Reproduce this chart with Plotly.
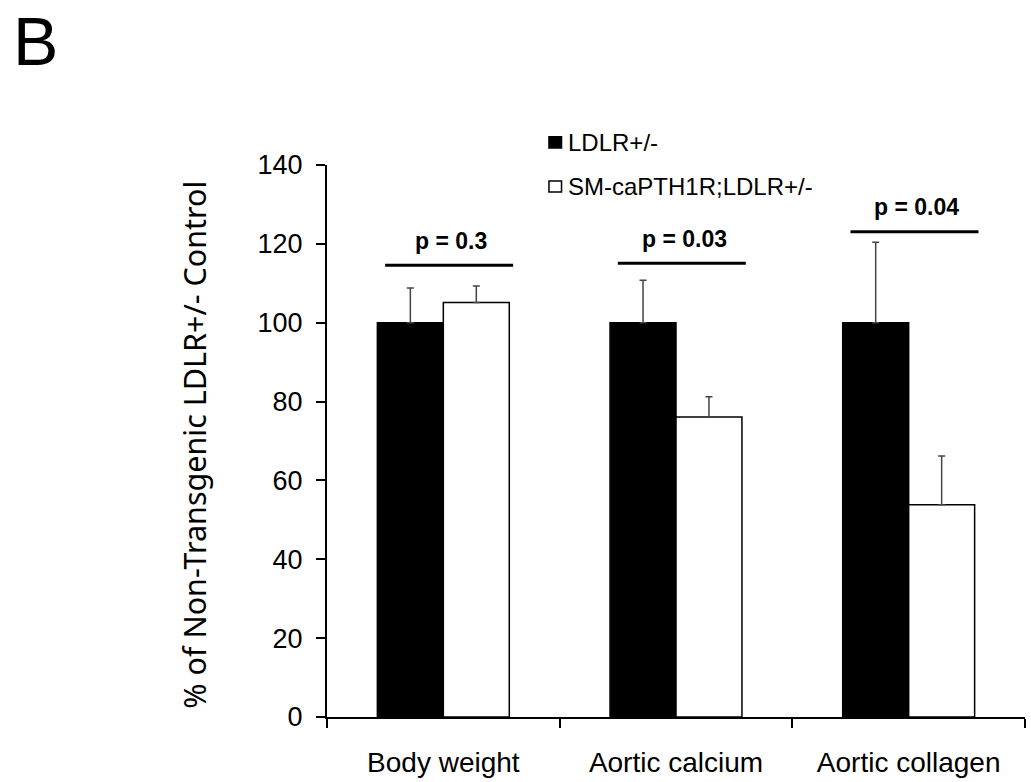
import plotly.graph_objects as go

categories = ["Body weight", "Aortic calcium", "Aortic collagen"]
series_names = ["LDLR+/-", "SM-caPTH1R;LDLR+/-"]
ldlr_values = [100.0, 100.0, 100.0]
ldlr_errors = [8.8, 10.8, 20.4]
sm_values = [105.1, 76.1, 53.8]
sm_errors = [4.2, 5.1, 12.4]
p_labels = ["p = 0.3", "p = 0.03", "p = 0.04"]
bracket_heights = [114.6, 115.1, 123.1]
y_ticks = [0, 20, 40, 60, 80, 100, 120, 140]

FONT = "Liberation Sans, Arial, sans-serif"

fig = go.Figure()
fig.add_trace(go.Bar(
    x=categories, y=ldlr_values, name=series_names[0],
    marker=dict(color="black", line=dict(color="black", width=1.5)),
    error_y=dict(type="data", symmetric=False, array=ldlr_errors,
                 arrayminus=[0] * len(ldlr_errors), color="#444444",
                 thickness=1.5, width=3.5),
))
fig.add_trace(go.Bar(
    x=categories, y=sm_values, name=series_names[1],
    marker=dict(color="white", line=dict(color="black", width=1.5)),
    error_y=dict(type="data", symmetric=False, array=sm_errors,
                 arrayminus=[0] * len(sm_errors), color="#444444",
                 thickness=1.5, width=3.5),
))

# significance brackets and p-value labels
line_span = (-0.25, 0.30)
for i, (lab, h) in enumerate(zip(p_labels, bracket_heights)):
    fig.add_shape(type="line", xref="x", yref="y",
                  x0=i + line_span[0], x1=i + line_span[1], y0=h, y1=h,
                  line=dict(color="black", width=3))
    fig.add_annotation(x=i + 0.035, y=h + 6.2, xref="x", yref="y",
                       text="<b>%s</b>" % lab, showarrow=False,
                       font=dict(family=FONT, size=23, color="black"),
                       yanchor="middle", xanchor="center")

# custom legend
legend_colors = ["black", "white"]
legend_y = [1.041, 0.961]
for name, col, yy in zip(series_names, legend_colors, legend_y):
    fig.add_shape(type="rect", xref="paper", yref="paper",
                  x0=0.318, x1=0.336, y0=yy - 0.010, y1=yy + 0.010,
                  fillcolor=col, line=dict(color="black", width=1.5))
    fig.add_annotation(x=0.343, y=yy, xref="paper", yref="paper",
                       text=name, showarrow=False, xanchor="left",
                       yanchor="middle",
                       font=dict(family=FONT, size=24, color="black"))

# panel letter
fig.add_annotation(x=-0.452, y=1.296, xref="paper", yref="paper",
                   text="B", showarrow=False, xanchor="left", yanchor="top",
                   borderpad=0,
                   font=dict(family=FONT, size=68, color="black"))

# y-axis title
fig.add_annotation(x=-0.190, y=0.494, xref="paper", yref="paper",
                   text="% of Non-Transgenic LDLR+/- Control", textangle=-90,
                   showarrow=False, xanchor="center", yanchor="middle",
                   font=dict(family="Noto Sans, Open Sans, sans-serif",
                             size=30.5, color="black"))

fig.update_layout(
    width=1031, height=782,
    margin=dict(l=327, r=6, t=165, b=65, autoexpand=False),
    paper_bgcolor="white", plot_bgcolor="white",
    barmode="group", bargap=0.433, bargroupgap=0,
    showlegend=False,
    font=dict(family=FONT, color="black"),
)
fig.update_xaxes(
    type="category", range=[-0.5, 2.5], automargin=False,
    showline=True, linecolor="black", linewidth=2,
    ticks="outside", tickson="boundaries", ticklen=9, tickwidth=2,
    tickcolor="black", showgrid=False, zeroline=False,
    tickfont=dict(family=FONT, size=28, color="black"),
    ticklabelstandoff=19,
)
fig.update_yaxes(
    range=[0, 140], tickvals=y_ticks, automargin=False,
    showline=True, linecolor="black", linewidth=2,
    ticks="outside", ticklen=9, tickwidth=2, tickcolor="black",
    showgrid=False, zeroline=False,
    tickfont=dict(family=FONT, size=27, color="black"),
    ticklabelstandoff=8,
)

fig.write_html("out.html")
